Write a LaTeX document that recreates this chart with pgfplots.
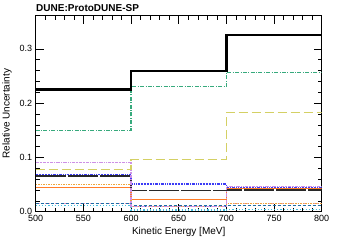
\documentclass[border=0pt]{standalone}
\usepackage{pgfplots}
\pgfplotsset{compat=1.18}
\usepackage{fontspec}
\setmainfont{Liberation Sans}
\definecolor{cgreen}{RGB}{55,170,125}
\definecolor{ckhaki}{RGB}{212,208,100}
\definecolor{cviolet}{RGB}{205,145,230}
\definecolor{cblue}{RGB}{60,60,245}
\definecolor{cdark}{RGB}{40,40,40}
\definecolor{corange}{RGB}{240,165,60}
\definecolor{corsolid}{RGB}{255,125,40}
\definecolor{csteel}{RGB}{30,110,165}
\definecolor{ccyan}{RGB}{70,190,225}
\definecolor{cpink}{RGB}{230,150,200}
\begin{document}
\begin{tikzpicture}
\useasboundingbox (-35.7pt,-30.3pt) rectangle (321.3pt,211.7pt);
\begin{axis}[
  at={(0pt,0pt)}, anchor=south west,
  scale only axis, width=286pt, height=196pt,
  xmin=500, xmax=800, ymin=0, ymax=0.361,
  xtick={500,550,...,800},
  ytick={0,0.1,0.2,0.3},
  minor x tick num=4, minor y tick num=4,
  tick align=inside,
  major tick length=8pt, minor tick length=4pt,
  every tick/.style={black, line width=0.5pt},
  axis line style={line width=0.8pt},
  yticklabel style={/pgf/number format/.cd, fixed, fixed zerofill, precision=1},
  /pgf/number format/assume math mode=true,
  ticklabel style={font=\fontsize{9}{10}\selectfont},
  scaled y ticks=false,
  xlabel={Kinetic Energy [MeV]},
  ylabel={Relative Uncertainty},
  label style={font=\fontsize{10}{11}\selectfont},
  xlabel style={yshift=1pt},
  ylabel style={yshift=1pt},
  clip=true,
]
\addplot[const plot, ccyan, line width=1.2pt, dotted] coordinates {(500,0.011) (600,0.003) (700,0.004) (800,0.004)};
\addplot[const plot, cpink, line width=1.2pt, dotted] coordinates {(500,0.015) (600,0.009) (700,0.015) (800,0.015)};
\addplot[const plot, csteel, line width=1.2pt, dash pattern=on 3pt off 2pt] coordinates {(500,0.0145) (600,0.0105) (700,0.012) (800,0.012)};
\addplot[const plot, corange, line width=1.2pt, dash pattern=on 1.5pt off 1pt] coordinates {(500,0.050) (600,0.009) (700,0.015) (800,0.015)};
\addplot[const plot, corsolid, line width=1.3pt] coordinates {(500,0.044) (600,0.023) (700,0.043) (800,0.043)};
\addplot[const plot, cdark, line width=1.3pt, dash pattern=on 30pt off 2pt] coordinates {(500,0.066) (600,0.039) (700,0.040) (800,0.040)};
\addplot[const plot, cblue, line width=1.3pt, dash pattern=on 2pt off 1pt on 0.6pt off 1pt on 0.6pt off 1pt] coordinates {(500,0.069) (600,0.051) (700,0.045) (800,0.045)};
\addplot[const plot, cviolet, line width=1.2pt, dash pattern=on 3pt off 1pt on 0.6pt off 1pt on 0.6pt off 1pt] coordinates {(500,0.091) (600,0.009) (700,0.046) (800,0.046)};
\addplot[const plot, ckhaki, line width=1.3pt, dash pattern=on 9pt off 4pt] coordinates {(500,0.078) (600,0.0965) (700,0.183) (800,0.183)};
\addplot[const plot, cgreen, line width=1.2pt, dash pattern=on 4pt off 1.5pt on 0.8pt off 1.5pt] coordinates {(500,0.150) (600,0.2305) (700,0.257) (800,0.257)};
\addplot[const plot, black, line width=2.4pt] coordinates {(500,0.225) (600,0.2595) (700,0.325) (800,0.325)};
\end{axis}
\node[anchor=base west, font=\bfseries\fontsize{10}{11}\selectfont, inner sep=0pt] at (0.3pt,200.2pt) {DUNE:ProtoDUNE-SP};
\end{tikzpicture}
\end{document}
